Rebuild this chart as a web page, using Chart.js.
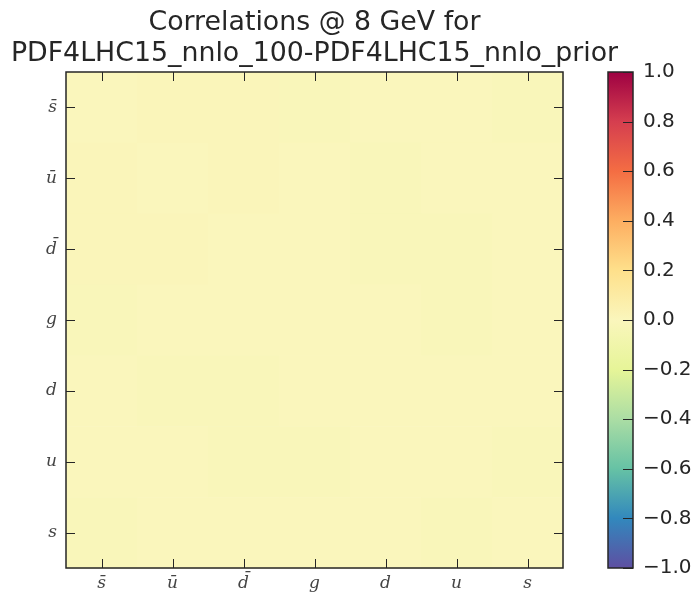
<!DOCTYPE html>
<html>
<head>
<meta charset="utf-8">
<script src="https://cdn.jsdelivr.net/npm/chart.js@4"></script>
<style>
  body { margin: 0; background: #fff; }
</style>
</head>
<body>
<canvas id="corrChart" width="696" height="596"></canvas>
<script>
// Flavours along both axes (top-to-bottom on y, left-to-right on x)
const flavours = ['s\u0304', 'u\u0304', 'd\u0304', 'g', 'd', 'u', 's'];

// Correlation differences between the two PDF sets, one row per flavour
const corr = [
    [ 0.00,  0.01,  0.01, -0.01,  0.00,  0.00, -0.01],
    [ 0.01,  0.00,  0.01,  0.00, -0.01,  0.00,  0.00],
    [ 0.01,  0.01,  0.00,  0.00, -0.01, -0.01,  0.00],
    [-0.01,  0.00,  0.00,  0.00,  0.00, -0.01,  0.00],
    [ 0.00, -0.01, -0.01,  0.00,  0.00,  0.00,  0.00],
    [ 0.00,  0.00, -0.01, -0.01,  0.00,  0.00, -0.01],
    [-0.01,  0.00,  0.00,  0.00,  0.00, -0.01,  0.00]
];

// Colour bar ticks and the colour map stops
const cbTicks = [-1.0, -0.8, -0.6, -0.4, -0.2, 0.0, 0.2, 0.4, 0.6, 0.8, 1.0];
const cmapValues = [-1.0, -0.8, -0.6, -0.4, -0.2, 0.0, 0.2, 0.4, 0.6, 0.8, 1.0];
const cmapColours = ['#5e4fa2', '#3288bd', '#66c2a5', '#abdda4', '#e6f598', '#faf6bc',
                     '#fee08b', '#fdae61', '#f46d43', '#d53e4f', '#9e0142'];

const titleLines = ['Correlations @ 8 GeV for', 'PDF4LHC15_nnlo_100-PDF4LHC15_nnlo_prior'];

function hexToRgb(h) {
    return [parseInt(h.slice(1, 3), 16), parseInt(h.slice(3, 5), 16), parseInt(h.slice(5, 7), 16)];
}

function colourFor(v) {
    v = Math.max(-1, Math.min(1, v));
    for (let k = 0; k < cmapValues.length - 1; k++) {
        if (v <= cmapValues[k + 1]) {
            const t = (v - cmapValues[k]) / (cmapValues[k + 1] - cmapValues[k]);
            const a = hexToRgb(cmapColours[k]), b = hexToRgb(cmapColours[k + 1]);
            const c = a.map((ch, n) => Math.round(ch + (b[n] - ch) * t));
            return `rgb(${c[0]},${c[1]},${c[2]})`;
        }
    }
    return cmapColours[cmapColours.length - 1];
}

const frameColour = '#262626';
const tickLen = 9;

// Draws the matrix cells, the frame with inward ticks, the colour bar and the title
const heatmapPlugin = {
    id: 'heatmap',
    beforeDatasetsDraw(chart) {
        const { ctx, scales: { x, y } } = chart;
        ctx.save();
        corr.forEach((row, j) => {
            row.forEach((v, i) => {
                const x0 = x.getPixelForValue(i - 0.5), x1 = x.getPixelForValue(i + 0.5);
                const y0 = y.getPixelForValue(j - 0.5), y1 = y.getPixelForValue(j + 0.5);
                ctx.fillStyle = colourFor(v);
                ctx.fillRect(x0, y0, x1 - x0 + 0.5, y1 - y0 + 0.5);
            });
        });
        ctx.restore();
    },
    afterDraw(chart) {
        const { ctx, chartArea: a, scales: { x, y, cb } } = chart;
        ctx.save();

        // plot frame and inward ticks on every side
        ctx.strokeStyle = frameColour;
        ctx.lineWidth = 1;
        ctx.beginPath();
        flavours.forEach((_, k) => {
            const px = Math.round(x.getPixelForValue(k)) + 0.5;
            ctx.moveTo(px, a.bottom); ctx.lineTo(px, a.bottom - tickLen);
            ctx.moveTo(px, a.top); ctx.lineTo(px, a.top + tickLen);
            const py = Math.round(y.getPixelForValue(k)) + 0.5;
            ctx.moveTo(a.left, py); ctx.lineTo(a.left + tickLen, py);
            ctx.moveTo(a.right, py); ctx.lineTo(a.right - tickLen, py);
        });
        ctx.stroke();
        ctx.lineWidth = 1.5;
        ctx.strokeRect(a.left, a.top, a.right - a.left, a.bottom - a.top);

        // colour bar
        const barL = a.right + 45, barR = a.right + 70;
        const top = cb.getPixelForValue(1), bottom = cb.getPixelForValue(-1);
        const grad = ctx.createLinearGradient(0, bottom, 0, top);
        cmapValues.forEach((v, k) => grad.addColorStop((v + 1) / 2, cmapColours[k]));
        ctx.fillStyle = grad;
        ctx.fillRect(barL, top, barR - barL, bottom - top);
        ctx.lineWidth = 1;
        ctx.beginPath();
        cbTicks.forEach(v => {
            const py = Math.round(cb.getPixelForValue(v)) + 0.5;
            ctx.moveTo(barR, py); ctx.lineTo(barR - 10, py);
        });
        ctx.stroke();
        ctx.lineWidth = 1.5;
        ctx.strokeRect(barL, top, barR - barL, bottom - top);

        // title, centred over the plot
        ctx.fillStyle = '#262626';
        ctx.font = '26.8px "DejaVu Sans"';
        ctx.textAlign = 'center';
        ctx.textBaseline = 'alphabetic';
        const cx = (a.left + a.right) / 2;
        ctx.fillText(titleLines[0], cx, 30);
        ctx.fillText(titleLines[1], cx, 61);
        ctx.restore();
    }
};

const mathFont = { family: '"DejaVu Serif"', style: 'italic', size: 17 };
const sansFont = { family: '"DejaVu Sans"', size: 20 };

const corrChart = new Chart(document.getElementById('corrChart').getContext('2d'), {
    type: 'scatter',
    data: { datasets: [] },
    options: {
        responsive: false,
        animation: false,
        layout: { padding: { top: 72 } },
        plugins: {
            legend: { display: false },
            tooltip: { enabled: false },
            title: { display: false }
        },
        scales: {
            x: {
                type: 'linear',
                position: 'bottom',
                min: -0.5,
                max: 6.5,
                afterBuildTicks: s => { s.ticks = flavours.map((_, i) => ({ value: i })); },
                afterFit: s => { s.height = 28; },
                ticks: {
                    callback: (v, i) => flavours[i],
                    font: mathFont,
                    color: '#444',
                    padding: 5,
                    maxRotation: 0
                },
                grid: { display: false, drawTicks: false },
                border: { display: false }
            },
            y: {
                type: 'linear',
                position: 'left',
                reverse: true,
                min: -0.5,
                max: 6.5,
                afterBuildTicks: s => { s.ticks = flavours.map((_, i) => ({ value: i })); },
                afterFit: s => { s.width = 66; },
                ticks: {
                    callback: (v, i) => flavours[i],
                    font: mathFont,
                    color: '#444',
                    padding: 9
                },
                grid: { display: false, drawTicks: false },
                border: { display: false }
            },
            cb: {
                type: 'linear',
                position: 'right',
                min: -1,
                max: 1,
                afterBuildTicks: s => { s.ticks = cbTicks.map(v => ({ value: v })); },
                afterFit: s => {
                    s.width = 133;
                    s.paddingTop = 0;
                    s.paddingBottom = 0;
                },
                ticks: {
                    callback: v => (v < -1e-9 ? '\u2212' : '') + Math.abs(v).toFixed(1),
                    font: sansFont,
                    color: '#262626',
                    padding: 80
                },
                grid: { display: false, drawTicks: false },
                border: { display: false }
            }
        }
    },
    plugins: [heatmapPlugin]
});
</script>
</body>
</html>
